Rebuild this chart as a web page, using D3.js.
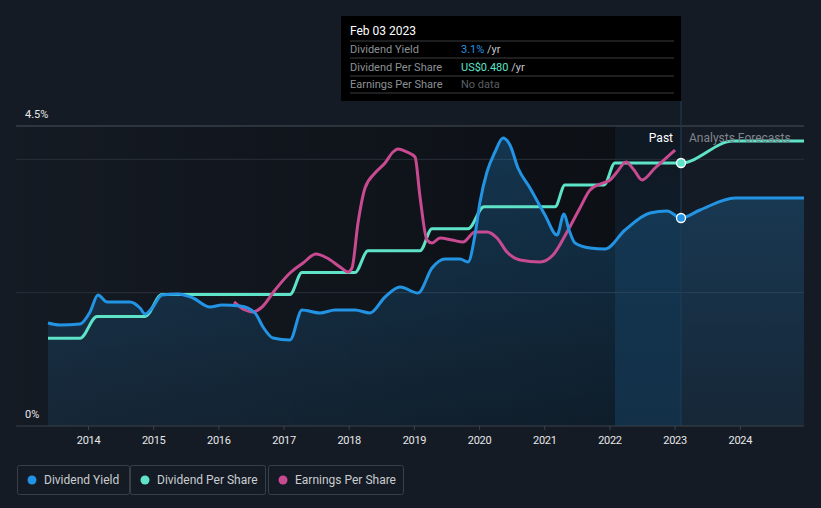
<!DOCTYPE html>
<html>
<head>
<meta charset="utf-8">
<script src="https://cdn.jsdelivr.net/npm/d3@7"></script>
<style>
  html, body { margin: 0; padding: 0; background: #151b24; }
  svg { display: block; font-family: Roboto, "Noto Sans", sans-serif; }
</style>
</head>
<body>
<svg id="chart" width="821" height="508"></svg>
<script>
// ---------- DATA ----------
const yearTicks = [2014, 2015, 2016, 2017, 2018, 2019, 2020, 2021, 2022, 2023, 2024];
const yieldTickLabels = ["0%", "4.5%"];
const seriesNames = ["Dividend Yield", "Dividend Per Share", "Earnings Per Share"];

// Dividend yield (%), [decimal year, value]
const dividendYield = [
  [2013.386, 1.545], [2013.570, 1.515], [2013.877, 1.53], [2014.031, 1.71], [2014.153, 1.965],
  [2014.292, 1.86], [2014.644, 1.86], [2014.798, 1.77], [2014.875, 1.68], [2014.982, 1.77],
  [2015.135, 1.965], [2015.381, 1.98], [2015.611, 1.92], [2015.872, 1.785], [2016.056, 1.815],
  [2016.332, 1.80], [2016.562, 1.695], [2016.685, 1.485], [2016.838, 1.32], [2017.099, 1.29],
  [2017.283, 1.74], [2017.559, 1.695], [2017.790, 1.74], [2018.096, 1.74], [2018.327, 1.695],
  [2018.557, 1.935], [2018.787, 2.085], [2019.063, 1.995], [2019.278, 2.37], [2019.477, 2.505],
  [2019.707, 2.505], [2019.830, 2.46], [2019.937, 2.865], [2020.014, 3.36], [2020.121, 3.81],
  [2020.244, 4.11], [2020.367, 4.32], [2020.474, 4.215], [2020.597, 3.87], [2020.781, 3.57],
  [2021.011, 3.165], [2021.195, 2.865], [2021.303, 3.18], [2021.380, 2.94], [2021.472, 2.745],
  [2021.702, 2.67], [2021.932, 2.655], [2022.239, 2.94], [2022.623, 3.195], [2022.884, 3.225],
  [2023.098, 3.12], [2023.390, 3.24], [2023.926, 3.42], [2024.31, 3.42], [2024.985, 3.42]
];

// Dividend per share (US$)
const dividendPerShare = [
  [2013.386, 0.16], [2013.877, 0.16], [2014.138, 0.20], [2014.875, 0.20], [2015.135, 0.24],
  [2017.099, 0.24], [2017.283, 0.28], [2018.096, 0.28], [2018.296, 0.32], [2019.094, 0.32],
  [2019.278, 0.36], [2019.830, 0.36], [2020.075, 0.40], [2021.165, 0.40], [2021.318, 0.44],
  [2021.917, 0.44], [2022.085, 0.48], [2023.098, 0.48], [2023.896, 0.52], [2024.985, 0.52]
];

// Earnings per share (US$)
const earningsPerShare = [
  [2016.240, 0.372], [2016.409, 0.348], [2016.516, 0.342], [2016.670, 0.357], [2016.869, 0.408],
  [2017.099, 0.459], [2017.299, 0.489], [2017.498, 0.516], [2017.667, 0.504], [2017.866, 0.477],
  [2017.989, 0.462], [2018.050, 0.474], [2018.142, 0.609], [2018.250, 0.714], [2018.403, 0.759],
  [2018.557, 0.789], [2018.679, 0.822], [2018.756, 0.831], [2018.894, 0.822], [2019.017, 0.807],
  [2019.094, 0.687], [2019.201, 0.558], [2019.278, 0.549], [2019.400, 0.564], [2019.585, 0.558],
  [2019.753, 0.552], [2019.937, 0.582], [2020.121, 0.582], [2020.275, 0.564], [2020.428, 0.522],
  [2020.628, 0.498], [2020.935, 0.492], [2021.134, 0.513], [2021.349, 0.582], [2021.548, 0.654],
  [2021.702, 0.708], [2021.901, 0.729], [2022.009, 0.738], [2022.116, 0.762], [2022.254, 0.792],
  [2022.377, 0.768], [2022.500, 0.738], [2022.699, 0.774], [2023.006, 0.828]
];

const tooltipDate = "Feb 03 2023";
const tooltipYear = 2023.098;
const tooltipYield = "3.1%";
const tooltipDps = "US$0.480";
const pastBandStart = 2022.085;

// ---------- LAYOUT ----------
const svg = d3.select("#chart");
const pLeft = 16, pRight = 804, pTop = 126, pBottom = 426;
const colors = { yield: "#2394e3", dps: "#5fe3c8", eps: "#c84a91" };

const x = d3.scaleLinear().domain([2013.386, 2024.985]).range([48, 804]);
const yY = d3.scaleLinear().domain([0, 4.5]).range([pBottom, pTop]);
const yD = d3.scaleLinear().domain([0, 0.48 * 300 / 263]).range([pBottom, pTop]);
const yE = d3.scaleLinear().domain([0, 0.9]).range([pBottom, pTop]);

const defs = svg.append("defs");
const pastGrad = defs.append("linearGradient").attr("id", "pastGrad")
  .attr("x1", "0").attr("x2", "1").attr("y1", "0").attr("y2", "0");
pastGrad.append("stop").attr("offset", "0").attr("stop-color", "#000").attr("stop-opacity", 0.02);
pastGrad.append("stop").attr("offset", "1").attr("stop-color", "#000").attr("stop-opacity", 0.42);

const bandGrad = defs.append("linearGradient").attr("id", "bandGrad")
  .attr("x1", "0").attr("x2", "0").attr("y1", "0").attr("y2", "1");
bandGrad.append("stop").attr("offset", "0").attr("stop-color", "#1e5a8a").attr("stop-opacity", 0.10);
bandGrad.append("stop").attr("offset", "1").attr("stop-color", "#1e6aa8").attr("stop-opacity", 0.22);

const areaGrad = defs.append("linearGradient").attr("id", "areaGrad")
  .attr("gradientUnits", "userSpaceOnUse")
  .attr("x1", 0).attr("x2", 0).attr("y1", pTop).attr("y2", pBottom);
areaGrad.append("stop").attr("offset", "0").attr("stop-color", "#2394e3").attr("stop-opacity", 0.28);
areaGrad.append("stop").attr("offset", "1").attr("stop-color", "#2394e3").attr("stop-opacity", 0.10);

// past (darker) region and last-year band
svg.append("rect").attr("x", pLeft).attr("y", pTop)
  .attr("width", x(pastBandStart) - pLeft).attr("height", pBottom - pTop)
  .attr("fill", "url(#pastGrad)");
svg.append("rect").attr("x", x(pastBandStart)).attr("y", pTop)
  .attr("width", x(tooltipYear) - x(pastBandStart)).attr("height", pBottom - pTop)
  .attr("fill", "#0d1117");
svg.append("rect").attr("x", x(pastBandStart)).attr("y", pTop)
  .attr("width", x(tooltipYear) - x(pastBandStart)).attr("height", pBottom - pTop)
  .attr("fill", "url(#bandGrad)");

// gridlines
[2, 4].forEach(v => {
  svg.append("line").attr("x1", pLeft).attr("x2", pRight)
    .attr("y1", yY(v)).attr("y2", yY(v))
    .attr("stroke", "#2a3039").attr("stroke-width", 1);
});
svg.append("line").attr("x1", pLeft).attr("x2", pRight)
  .attr("y1", yY(4.5)).attr("y2", yY(4.5))
  .attr("stroke", "#4a5058").attr("stroke-width", 1);

// area under yield
const area = d3.area().x(d => x(d[0])).y0(pBottom).y1(d => yY(d[1])).curve(d3.curveMonotoneX);
svg.append("path").datum(dividendYield).attr("d", area).attr("fill", "url(#areaGrad)");

// vertical marker line
svg.append("line").attr("x1", x(tooltipYear)).attr("x2", x(tooltipYear))
  .attr("y1", 101).attr("y2", pBottom)
  .attr("stroke", "#1d3b57").attr("stroke-width", 1.2);

// lines
const mkLine = ys => d3.line().x(d => x(d[0])).y(d => ys(d[1])).curve(d3.curveMonotoneX);
svg.append("path").datum(dividendPerShare).attr("d", mkLine(yD))
  .attr("fill", "none").attr("stroke", colors.dps).attr("stroke-width", 3);
svg.append("path").datum(earningsPerShare).attr("d", mkLine(yE))
  .attr("fill", "none").attr("stroke", colors.eps).attr("stroke-width", 3);
svg.append("path").datum(dividendYield).attr("d", mkLine(yY))
  .attr("fill", "none").attr("stroke", colors.yield).attr("stroke-width", 3);

// marker dots
svg.append("circle").attr("cx", x(tooltipYear)).attr("cy", yD(0.48)).attr("r", 4.5)
  .attr("fill", colors.dps).attr("stroke", "#fff").attr("stroke-width", 1.3);
svg.append("circle").attr("cx", x(tooltipYear)).attr("cy", yY(3.12)).attr("r", 4.5)
  .attr("fill", colors.yield).attr("stroke", "#fff").attr("stroke-width", 1.3);

// axis baseline + ticks
svg.append("line").attr("x1", pLeft).attr("x2", pRight).attr("y1", pBottom).attr("y2", pBottom)
  .attr("stroke", "#3c424b").attr("stroke-width", 1);
const xAxis = d3.axisBottom(x).tickValues(yearTicks).tickFormat(d3.format("d"))
  .tickSize(4).tickPadding(6);
const gx = svg.append("g").attr("transform", `translate(0,${pBottom})`).call(xAxis);
gx.select(".domain").remove();
gx.selectAll(".tick line").attr("stroke", "#3c424b");
gx.selectAll(".tick text").attr("fill", "#e6e8ea").attr("font-size", 11)
  .attr("font-family", "Roboto, sans-serif").attr("letter-spacing", "-0.3");

// y labels
svg.append("text").attr("x", 25).attr("y", yY(4.5) - 8).text(yieldTickLabels[1])
  .attr("fill", "#e6e8ea").attr("font-size", 11);
svg.append("text").attr("x", 25).attr("y", yY(0) - 8).text(yieldTickLabels[0])
  .attr("fill", "#e6e8ea").attr("font-size", 11);

// Past / Forecast labels
svg.append("text").attr("x", x(tooltipYear) - 8).attr("y", 142).attr("text-anchor", "end")
  .text("Past").attr("fill", "#ffffff").attr("font-size", 12);
svg.append("text").attr("x", x(tooltipYear) + 8).attr("y", 142)
  .text("Analysts Forecasts").attr("fill", "#80868d").attr("font-size", 12);

// tooltip
const tt = svg.append("g");
tt.append("rect").attr("x", 341).attr("y", 16).attr("width", x(tooltipYear) - 341).attr("height", 85)
  .attr("fill", "#000");
tt.append("text").attr("x", 350).attr("y", 35).text(tooltipDate)
  .attr("fill", "#fff").attr("font-size", 12);
[41, 58, 76, 93].forEach(yy => {
  tt.append("line").attr("x1", 350).attr("x2", 674).attr("y1", yy).attr("y2", yy)
    .attr("stroke", "#3b3d40").attr("stroke-width", 1);
});
const rows = [
  { label: seriesNames[0], value: tooltipYield, color: colors.yield, suffix: " /yr" },
  { label: seriesNames[1], value: tooltipDps, color: colors.dps, suffix: " /yr" },
  { label: seriesNames[2], value: "No data", color: "#5b5f64", suffix: "" }
];
rows.forEach((r, i) => {
  const yy = 53 + i * 17.5;
  tt.append("text").attr("x", 350).attr("y", yy).text(r.label)
    .attr("fill", "#8c9196").attr("font-size", 11);
  const t = tt.append("text").attr("x", 461).attr("y", yy).attr("font-size", 11);
  t.append("tspan").text(r.value).attr("fill", r.color);
  if (r.suffix) t.append("tspan").text(r.suffix).attr("fill", "#c4c7ca");
});

// legend
const legendItems = [
  { name: seriesNames[0], color: colors.yield, x: 17, w: 112 },
  { name: seriesNames[1], color: colors.dps, x: 130, w: 135 },
  { name: seriesNames[2], color: colors.eps, x: 268, w: 135 }
];
legendItems.forEach(it => {
  const g = svg.append("g").attr("transform", `translate(${it.x},465)`);
  g.append("rect").attr("x", 0.5).attr("y", 0.5).attr("width", it.w).attr("height", 29)
    .attr("rx", 2).attr("fill", "none").attr("stroke", "#3a3f47");
  g.append("circle").attr("cx", 15).attr("cy", 15).attr("r", 4.5).attr("fill", it.color);
  g.append("text").attr("x", 27).attr("y", 19).text(it.name)
    .attr("fill", "#c9cdd1").attr("font-size", 12);
});
</script>
</body>
</html>
